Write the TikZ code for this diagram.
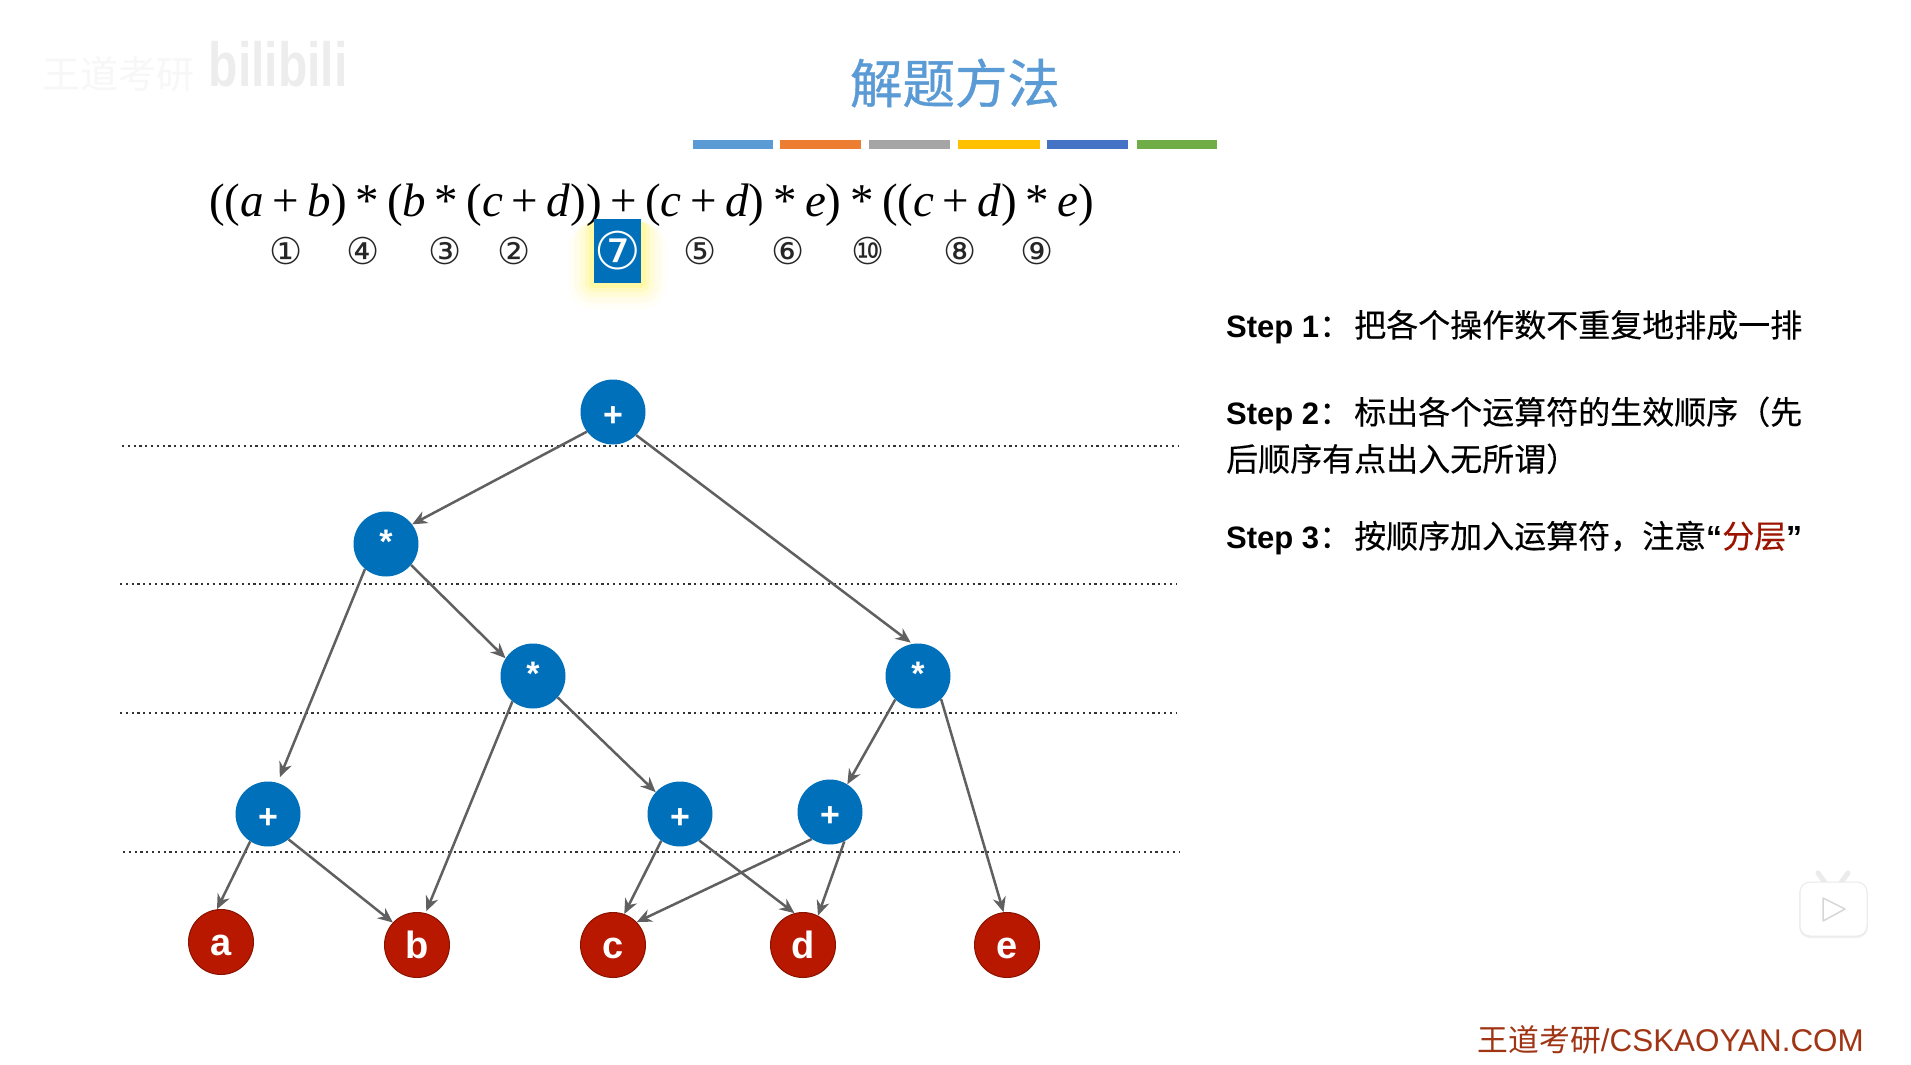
\documentclass[tikz,border=0pt]{standalone}
\usepackage{fontspec}
\usetikzlibrary{arrows.meta}
\setmainfont{Liberation Sans}
\newfontfamily\cjk[FakeBold=0.3]{Noto Sans CJK SC}
\newfontfamily\cjkt[FakeBold=0.7]{Noto Sans CJK SC}
\newfontfamily\cjkr{Noto Sans CJK SC}
\newfontfamily\lsans{Liberation Sans}
\newfontfamily\fser{Liberation Serif}
\newfontfamily\djv{DejaVu Sans}
\definecolor{nblue}{HTML}{0070BA}
\definecolor{nred}{HTML}{B81800}
\definecolor{edgec}{HTML}{606060}
\definecolor{titleb}{HTML}{5B9BD5}
\definecolor{foot}{HTML}{A03515}
\newcommand{\fsz}[1]{\fontsize{#1}{#1}\selectfont}
\newcommand{\stepl}[1]{{\lsans\bfseries\fontsize{31}{31}\selectfont Step #1}}
\newcommand{\gp}{\hspace{8.5pt}}
\tikzset{
 op/.style={circle,fill=nblue,minimum size=65pt,inner sep=0pt,text=white,font=\lsans\fsz{34}\bfseries,text height=29.6pt,text depth=0pt},
 opstar/.style={op,text height=18pt},
 leaf/.style={circle,fill=nred,draw=nred!75!black,line width=1pt,minimum size=65pt,inner sep=0pt,text=white,font=\lsans\fsz{38}\bfseries,text height=29pt,text depth=2pt},
 edge/.style={draw=edgec,line width=2.5pt,-{Stealth[length=15pt,width=13pt]}},
 level/.style={line width=2pt,dash pattern=on 2.2pt off 3.6pt,draw=black!80},
 bar/.style={minimum height=9pt,inner sep=0pt,anchor=west},
 cn/.style={font=\djv\fsz{37},text=black!85,inner sep=0pt},
 st/.style={anchor=base west,inner sep=0pt,font=\cjk\fsz{32}},
 fm/.style={anchor=base,inner sep=0pt,font=\fser\fsz{47}}
}
\begin{document}
\begin{tikzpicture}[x=1pt,y=-1pt]
\useasboundingbox (0,0) rectangle (1911,1065);
\fill[white] (0,0) rectangle (1911,1065);
% watermark
\node[inner sep=0pt,text=black!3,font=\cjkr\fsz{38}] (wm1) at (118,74) {王道考研};
\node[inner sep=0pt,text=black!7,font=\lsans\bfseries\fsz{48},yscale=1.3] (wm2) at (278,64) {bilibili};
% title
\node[inner sep=0pt,text=titleb,font=\cjkt\fsz{52.5}] (title) at (955,83) {解题方法};
\foreach \n/\a/\w/\c in {b1/693/80/5B9BD5,b2/780/81/ED7D31,b3/869/81/A5A5A5,b4/958/82/FFC000,b5/1047/81/4472C4,b6/1137/80/70AD47}{
 \definecolor{tmp}{HTML}{\c}
 \node[bar,fill=tmp,minimum width=\w pt] (\n) at (\a,144) {};
}
% highlighted box glow
\foreach \g/\o in {26/.03,20/.05,14/.08,9/.1,5/.14}{
 \fill[yellow,opacity=\o,rounded corners=\g pt] (594-\g,222) rectangle (641+\g,283+\g);
}
% formula
\node[fm,anchor=base west] (formula) at (209,216) {((\textit{a}\gp+\gp\textit{b})\gp*\gp(\textit{b}\gp*\gp(\textit{c}\gp+\gp\textit{d}))\gp+\gp(\textit{c}\gp+\gp\textit{d})\gp*\gp\textit{e})\gp*\gp((\textit{c}\gp+\gp\textit{d})\gp*\gp\textit{e})};
\node[fill=nblue,minimum width=47pt,minimum height=64pt,inner sep=0pt,text=white,font=\djv\fsz{52}] (seven) at (617.5,251) {⑦};
\foreach \n/\x/\t in {c1/286/①,c4/363/④,c3/445/③,c2/514/②,c5/700/⑤,c6/788/⑥,c10/868/⑩,c8/960/⑧,c9/1037/⑨}{
 \node[cn] (\n) at (\x,251) {\t};
}
% steps
\node[st] (s1) at (1226,337) {\stepl{1}：\hspace{3pt}把各个操作数不重复地排成一排};
\node[st] (s2) at (1226,424) {\stepl{2}：\hspace{3pt}标出各个运算符的生效顺序（先};
\node[st] (s2b) at (1226,471) {后顺序有点出入无所谓）};
\node[st] (s3) at (1226,548) {\stepl{3}：\hspace{3pt}按顺序加入运算符，注意{\lsans\bfseries “}\textcolor{nred!85!black}{分层}{\lsans\bfseries ”}};
% dotted levels
\coordinate (l1a) at (122,446); \coordinate (l1b) at (1178,446);
\coordinate (l2a) at (120,584); \coordinate (l2b) at (1176,584);
\coordinate (l3a) at (120,713); \coordinate (l3b) at (1176,713);
\coordinate (l4a) at (123,852); \coordinate (l4b) at (1179,852);
\draw[level] (l1a) -- (l1b);
\draw[level] (l2a) -- (l2b);
\draw[level] (l3a) -- (l3b);
\draw[level] (l4a) -- (l4b);
% nodes
\node[op] (root) at (613,412) {+};
\node[opstar] (m1) at (386,544) {*};
\node[opstar] (m2) at (533,676) {*};
\node[opstar] (m3) at (918,676) {*};
\node[op] (pa) at (268,814) {+};
\node[op] (pb) at (680,814) {+};
\node[op] (pc) at (830,812) {+};
\node[leaf] (a) at (221,942) {a};
\node[leaf] (b) at (417,945) {b};
\node[leaf] (c) at (613,945) {c};
\node[leaf] (d) at (803,945) {d};
\node[leaf] (e) at (1007,945) {e};
% edges
\draw[edge] (root.217) -- (m1.37);
\draw[edge,shorten >=2pt] (root.315) -- (m3.100);
\draw[edge] (m1.320) -- (m2.147);
\draw[edge,shorten >=6pt] (m1.230) -- (pa.73);
\draw[edge,shorten >=2pt] (m2.231) -- (b.75);
\draw[edge] (m2.319) -- (pb.138);
\draw[edge] (m3.226) -- (pc.58);
\draw[edge] (m3.315) -- (e.96);
\draw[edge] (pa.237) -- (a.97);
\draw[edge] (pa.309) -- (b.137);
\draw[edge] (pb.235) -- (c.70);
\draw[edge] (pb.306) -- (d.105);
\draw[edge] (pc.236) -- (c.44);
\draw[edge] (pc.296) -- (d.63);
% footer
\node[inner sep=0pt,anchor=east,text=foot,font=\cjkr\fsz{30.8}] (ft) at (1864,1040) {王道考研{\lsans\fontsize{31.4}{31.4}\selectfont /CSKAOYAN.COM}};
% tv icon
\draw[black!8,line width=5pt,line cap=round] (1818,873) -- (1826,884) (1848,873) -- (1840,884);
\fill[black!6,rounded corners=11pt] (1799,883) rectangle (1868,938);
\fill[white,draw=black!8,line width=1pt,rounded corners=10pt] (1800,882) rectangle (1867,936);
\draw[black!16,line width=1.5pt,line join=round] (1823,898) -- (1845,909) -- (1823,921) -- cycle;
\end{tikzpicture}
\end{document}
